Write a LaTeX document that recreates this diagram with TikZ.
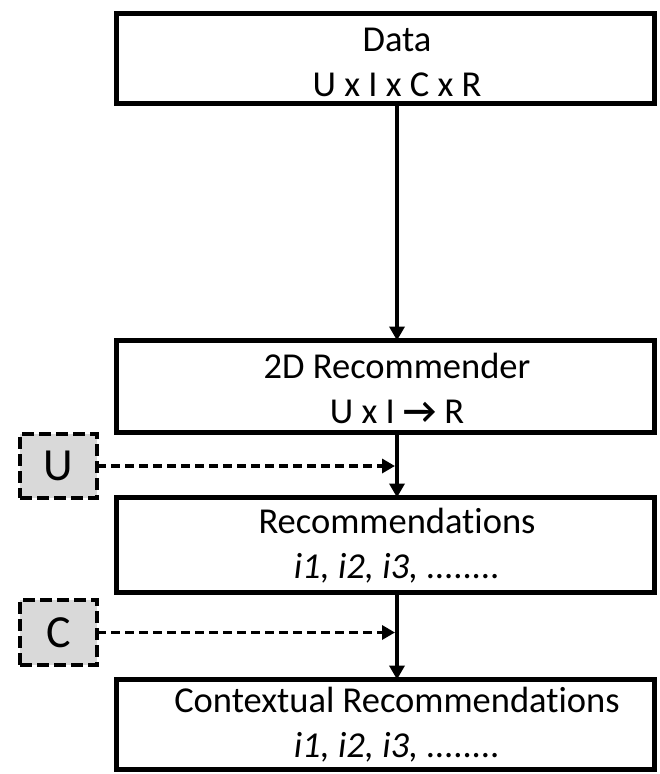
\documentclass[tikz,border=0pt]{standalone}
\usepackage{fontspec}
\setmainfont{Carlito}[Ligatures=NoCommon]
\usetikzlibrary{arrows.meta}
\begin{document}
\begin{tikzpicture}[x=1pt,y=-1pt,
  box/.style={draw=black,line width=5pt,fill=white,inner sep=0pt,outer sep=0pt},
  txt/.style={align=center,font=\fontsize{36.5}{45}\selectfont,inner sep=0pt},
  ctx/.style={draw=black,line width=4.5pt,dash pattern=on 12pt off 5pt,fill=black!15,inner sep=0pt,outer sep=0pt,minimum width=77pt,minimum height=64pt,font=\fontsize{46}{50}\selectfont},
  flow/.style={line width=4pt,-{Triangle[width=15pt,length=14pt]}},
  dflow/.style={line width=3.5pt,dash pattern=on 9pt off 5pt,-{Triangle[width=14pt,length=13pt]}}]
\useasboundingbox (0,0) rectangle (659,774);
% boxes
\node[box,minimum width=538pt,minimum height=90pt] (data) at (385.5,58.5) {};
\node[txt] (datat) at (397,62) {Data\\U x I x C x R};
\node[box,minimum width=538pt,minimum height=92pt] (rec2d) at (385.5,386.5) {};
\node[txt] (rec2dt) at (397,388) {2D Recommender\\U x I \textbf{→} R};
\node[box,minimum width=538pt,minimum height=95pt] (recs) at (385.5,545) {};
\node[txt] (recst) at (397,546) {Recommendations\\\textit{i1, i2, i3, ........}};
\node[box,minimum width=538pt,minimum height=90pt] (ctxr) at (385.5,724.5) {};
\node[txt] (ctxrt) at (397,725) {Contextual Recommendations\\\textit{i1, i2, i3, ........}};
% context boxes
\node[ctx] (U) at (58.5,466) {U};
\node[ctx,minimum height=65pt] (C) at (58.5,632.5) {C};
% connectors
\draw[flow] (data.south -| datat.center) -- (rec2d.north -| datat.center);
\draw[flow] (rec2d.south -| datat.center) -- (recs.north -| datat.center);
\draw[flow] (recs.south -| datat.center) -- (ctxr.north -| datat.center);
\draw[dflow] (U.east) -- ([xshift=-2pt]U.east -| datat.center);
\draw[dflow] (C.east) -- ([xshift=-2pt]C.east -| datat.center);
\end{tikzpicture}
\end{document}
